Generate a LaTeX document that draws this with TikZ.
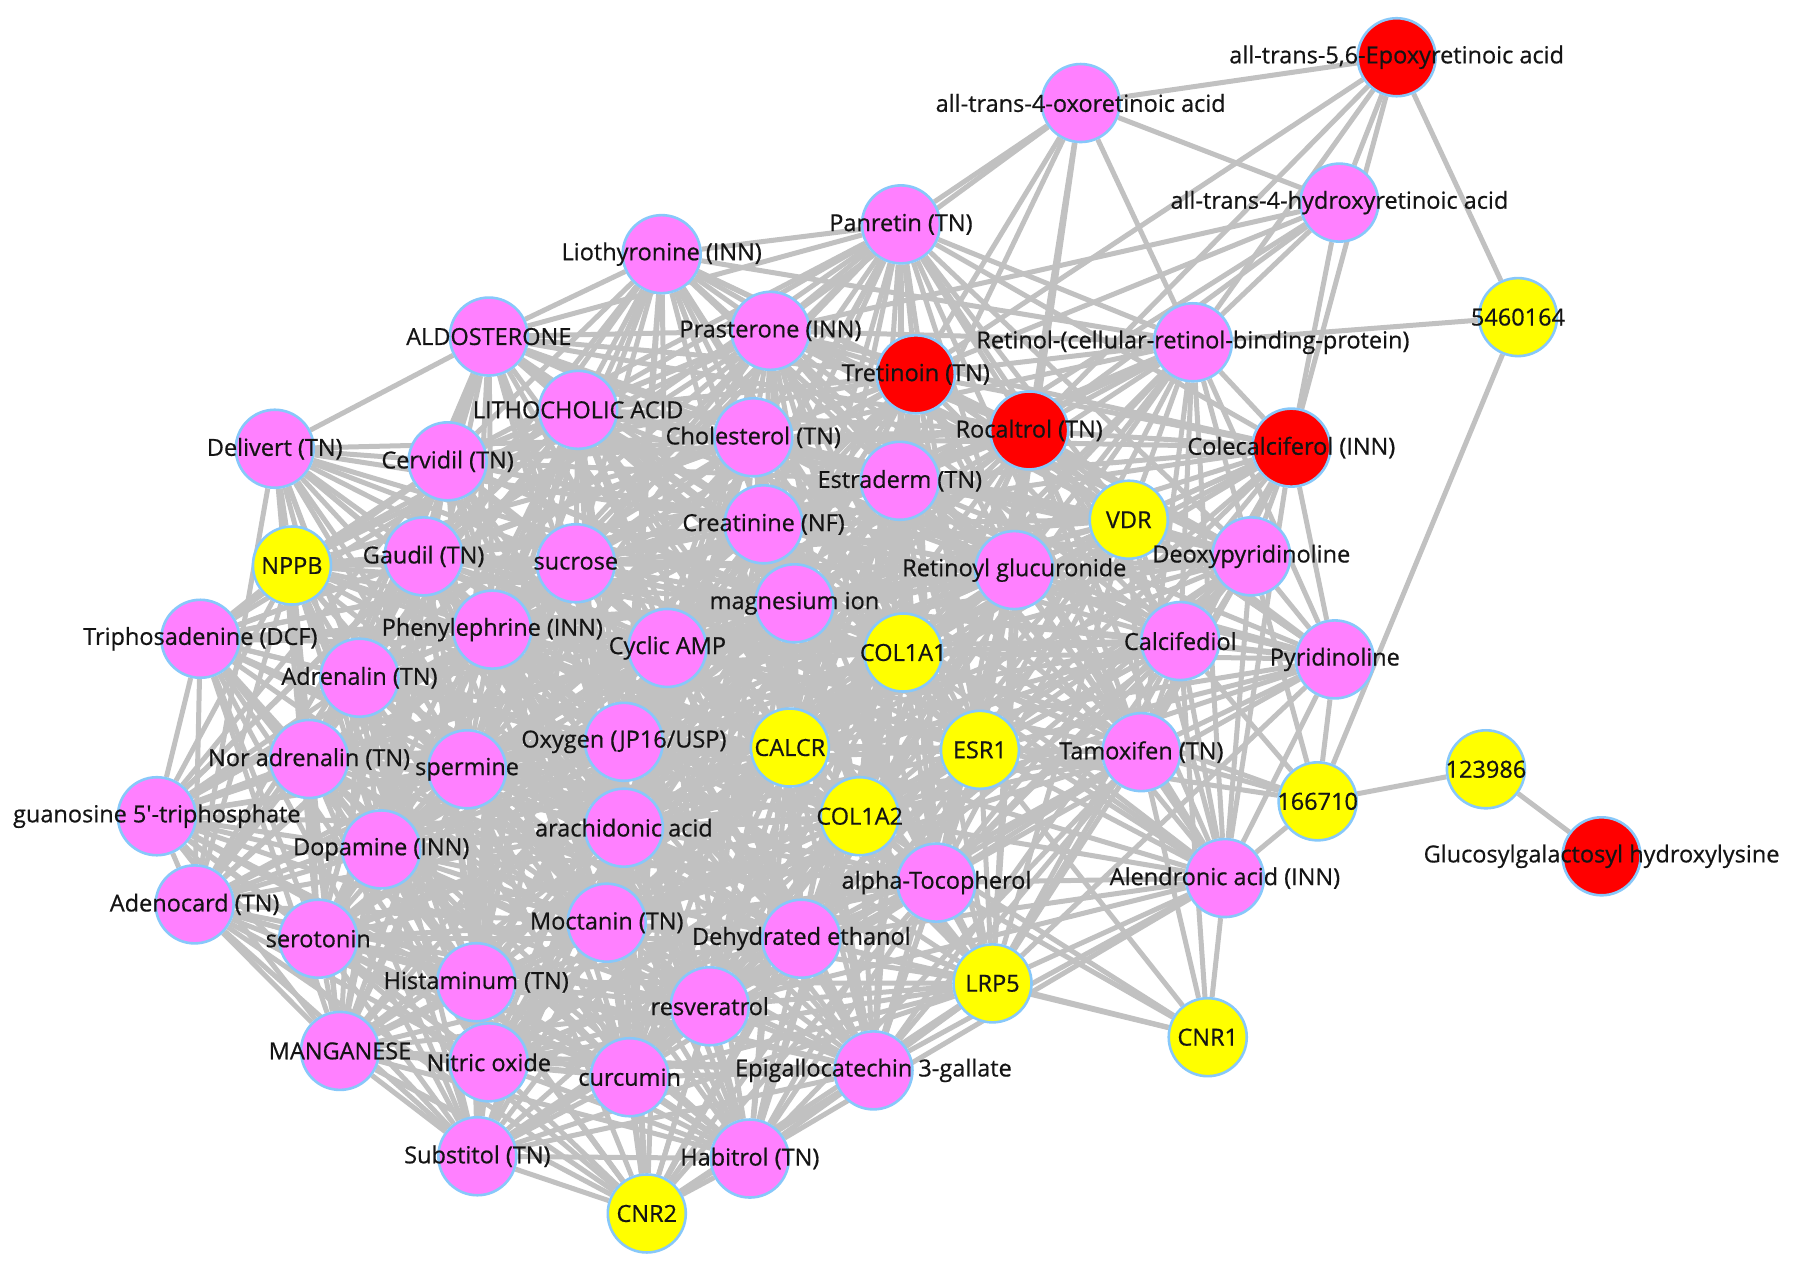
\documentclass[tikz,border=0pt]{standalone}
\usepackage{fontspec}
\newfontfamily\lblfont[FakeBold=0.6]{Open Sans}
\pgfdeclarelayer{bg}
\pgfsetlayers{bg,main}
\definecolor{npink}{RGB}{255,128,255}
\definecolor{nyellow}{RGB}{255,255,0}
\definecolor{nred}{RGB}{255,0,0}
\definecolor{nborder}{RGB}{135,200,250}
\definecolor{egray}{RGB}{193,193,193}
\definecolor{ltext}{RGB}{20,20,20}
\tikzset{
  net/.style={circle, minimum size=78pt, inner sep=0pt, draw=nborder, line width=2.6pt},
  edge/.style={draw=egray, line width=5pt},
  lbl/.style={font=\lblfont\fontsize{23.5}{28}\selectfont, text=ltext, inner sep=0pt}
}
\newcommand\exclpair[2]{\expandafter\def\csname xp@#1@#2\endcsname{}\expandafter\def\csname xp@#2@#1\endcsname{}}
\exclpair{deliv}{lio}
\exclpair{deliv}{litho}
\exclpair{deliv}{prast}
\exclpair{deliv}{triphos}
\exclpair{deliv}{gtp}
\exclpair{aldo}{triphos}
\exclpair{aldo}{gtp}
\exclpair{aldo}{nppb}
\exclpair{lio}{nppb}
\exclpair{lio}{triphos}
\def\allnodes{%
epoxy/1220/50/nred/{all-trans-5,6-Epoxyretinoic acid},
oxo/944/90/npink/{all-trans-4-oxoretinoic acid},
hydroxy/1170/177/npink/{all-trans-4-hydroxyretinoic acid},
pa/1326/277/nyellow/{5460164},
panretin/787/196/npink/{Panretin (TN)},
lio/578/222/npink/{Liothyronine (INN)},
aldo/427/294/npink/{ALDOSTERONE},
prast/673/289/npink/{Prasterone (INN)},
retinol/1042/299/npink/{Retinol-(cellular-retinol-binding-protein)},
tret/800/327/nred/{Tretinoin (TN)},
litho/505/358/npink/{LITHOCHOLIC ACID},
rocal/899/376/nred/{Rocaltrol (TN)},
cole/1128/391/nred/{Colecalciferol (INN)},
deliv/240/392/npink/{Delivert (TN)},
cerv/391/403/npink/{Cervidil (TN)},
chol/658/382/npink/{Cholesterol (TN)},
estra/786/420/npink/{Estraderm (TN)},
vdr/986/454/nyellow/{VDR},
creat/667/458/npink/{Creatinine (NF)},
deoxy/1093/486/npink/{Deoxypyridinoline},
nppb/255/494/nyellow/{NPPB},
gaudil/370/486/npink/{Gaudil (TN)},
sucrose/503/492/npink/{sucrose},
retgluc/886/498/npink/{Retinoyl glucuronide},
mg/694/527/npink/{magnesium ion},
triphos/175/558/npink/{Triphosadenine (DCF)},
phenyl/430/550/npink/{Phenylephrine (INN)},
camp/583/566/npink/{Cyclic AMP},
colaa/789/570/nyellow/{COL1A1},
calcifed/1031/560/npink/{Calcifediol},
pyrid/1166/576/npink/{Pyridinoline},
adren/314/592/npink/{Adrenalin (TN)},
noradr/270/663/npink/{Nor adrenalin (TN)},
spermine/408/672/npink/{spermine},
oxygen/545/648/npink/{Oxygen (JP16/USP)},
calcr/690/653/nyellow/{CALCR},
esr/856/655/nyellow/{ESR1},
tamox/997/657/npink/{Tamoxifen (TN)},
pb/1298/672/nyellow/{123986},
pc/1151/700/nyellow/{166710},
gtp/137/713/npink/{guanosine 5\textquotesingle-triphosphate},
colab/751/713/nyellow/{COL1A2},
arach/545/723/npink/{arachidonic acid},
dopa/333/742/npink/{Dopamine (INN)},
gluco/1399/748/nred/{Glucosylgalactosyl hydroxylysine},
atoc/818/771/npink/{alpha-Tocopherol},
alend/1070/767/npink/{Alendronic acid (INN)},
adeno/170/790/npink/{Adenocard (TN)},
sero/278/820/npink/{serotonin},
moct/530/806/npink/{Moctanin (TN)},
dehyd/700/820/npink/{Dehydrated ethanol},
hist/416/858/npink/{Histaminum (TN)},
resv/620/879/npink/{resveratrol},
lrp/867/859/nyellow/{LRP5},
cnra/1055/906/nyellow/{CNR1},
mang/297/918/npink/{MANGANESE},
nitric/427/928/npink/{Nitric oxide},
curc/550/941/npink/{curcumin},
egcg/763/935/npink/{Epigallocatechin 3-gallate},
subst/417/1010/npink/{Substitol (TN)},
habit/655/1012/npink/{Habitrol (TN)},
cnrb/565/1060/nyellow/{CNR2}}
\def\corelist{%
panretin/787/196,lio/578/222,aldo/427/294,prast/673/289,retinol/1042/299,tret/800/327,
litho/505/358,rocal/899/376,cole/1128/391,deliv/240/392,cerv/391/403,chol/658/382,
estra/786/420,vdr/986/454,creat/667/458,deoxy/1093/486,nppb/255/494,gaudil/370/486,
sucrose/503/492,retgluc/886/498,mg/694/527,triphos/175/558,phenyl/430/550,camp/583/566,
colaa/789/570,calcifed/1031/560,pyrid/1166/576,adren/314/592,noradr/270/663,spermine/408/672,
oxygen/545/648,calcr/690/653,esr/856/655,tamox/997/657,gtp/137/713,colab/751/713,
arach/545/723,dopa/333/742,atoc/818/771,alend/1070/767,adeno/170/790,sero/278/820,
moct/530/806,dehyd/700/820,hist/416/858,resv/620/879,lrp/867/859,mang/297/918,
nitric/427/928,curc/550/941,egcg/763/935,subst/417/1010,habit/655/1012,cnrb/565/1060}
\begin{document}
\begin{tikzpicture}[x=1.1448pt, y=-1.1448pt]
\useasboundingbox (0,0) rectangle (1568,1111);
% nodes
\foreach \n/\x/\y/\c/\t in \allnodes {
  \node[net, fill=\c] (\n) at (\x,\y) {};
}
% labels
\foreach \n/\x/\y/\c/\t in \allnodes {
  \node[lbl] (\n-l) at (\n.center) {\t};
}
% edges
\begin{pgfonlayer}{bg}
\fill[white] (0,0) rectangle (1568,1111);
\foreach \na/\xa/\ya [count=\i] in \corelist {
  \foreach \nb/\xb/\yb [count=\j] in \corelist {
    \ifnum\j>\i
      \pgfmathsetmacro\dd{veclen((\xa-\xb)/100,(\ya-\yb)/100)}
      \ifdim\dd pt<5.2pt
        \ifcsname xp@\na @\nb\endcsname\else
          \draw[edge] (\na) -- (\nb);
        \fi
      \fi
    \fi
  }
}
\foreach \a/\b in {epoxy/oxo, epoxy/hydroxy, epoxy/pa, epoxy/retinol, epoxy/tret, epoxy/rocal, epoxy/cole,
  oxo/panretin, oxo/hydroxy, oxo/retinol, oxo/tret, oxo/rocal, oxo/estra, oxo/retgluc, oxo/prast,
  hydroxy/tret, hydroxy/rocal, hydroxy/retinol, hydroxy/prast, hydroxy/estra, hydroxy/cole,
  pa/retinol, pa/pc, pc/pb, pb/gluco, pc/pyrid, pc/alend, pc/tamox, pc/calcifed, pc/esr, pc/deoxy, pc/colaa,
  cnra/alend, cnra/lrp, cnra/atoc, cnra/esr, cnra/colab, cnra/tamox, cnra/dehyd, cnra/calcifed} {
  \draw[edge] (\a) -- (\b);
}
\end{pgfonlayer}
\end{tikzpicture}
\end{document}
